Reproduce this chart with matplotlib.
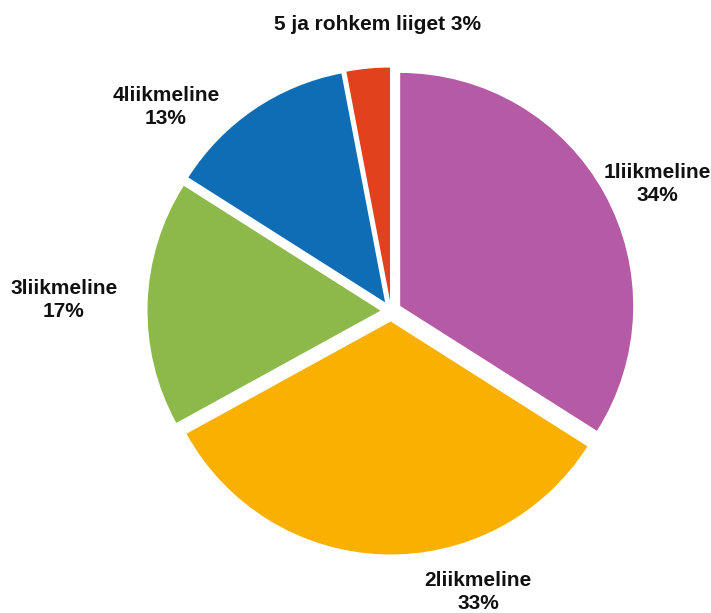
import matplotlib
matplotlib.use("Agg")
import matplotlib.pyplot as plt

categories = ["1liikmeline", "2liikmeline", "3liikmeline", "4liikmeline", "5 ja rohkem liiget"]
values = [34, 33, 17, 13, 3]
colors = ["#B55AA5", "#F9B000", "#8DB84A", "#0F6DB5", "#E2411E"]

W, H = 711, 613
fig = plt.figure(figsize=(W / 100, H / 100), dpi=100)
ax = fig.add_axes([0, 0, 1, 1])
cx, cy, r = 391, 311, 233
ax.set_aspect("equal")
ax.axis("off")

ax.pie(values, colors=colors, startangle=90, counterclock=False,
       explode=[0.045] * len(values),
       wedgeprops=dict(linewidth=0), radius=1.0)
ax.set_xlim(-cx / r, (W - cx) / r)
ax.set_ylim(-(H - cy) / r, cy / r)

label_pos = [(657, 184), (478, 592), (64, 300), (166, 107), (377, 25)]
font = dict(family="Liberation Sans", weight="bold", fontsize=15, color="#111111")
for i, (cat, v) in enumerate(zip(categories, values)):
    px, py = label_pos[i]
    if i == 4:
        txt = f"{cat} {v}%"
    else:
        txt = f"{cat}\n{v}%"
    fig.text(px / W, 1 - py / H, txt, ha="center", va="center", linespacing=1.3, **font)

fig.savefig("out.png", dpi=100)
